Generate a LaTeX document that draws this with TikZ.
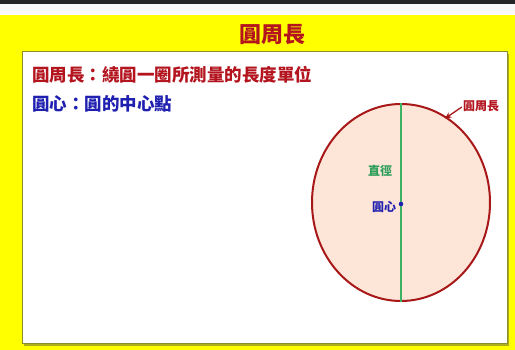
\documentclass[tikz,border=0pt]{standalone}
\usepackage{fontspec}
\newfontfamily\cjk{Noto Sans CJK TC}
\usetikzlibrary{arrows.meta,shapes.geometric}
\definecolor{bgyellow}{HTML}{FFFF00}
\definecolor{darkred}{HTML}{B3141E}
\definecolor{ringred}{HTML}{A81818}
\definecolor{txtblue}{HTML}{2020B0}
\definecolor{diagreen}{HTML}{2E9E5A}
\definecolor{linegreen}{HTML}{3CB264}
\definecolor{peach}{HTML}{FDE6D8}
\definecolor{olive}{HTML}{8C8C2A}
\definecolor{topbar}{HTML}{222426}
\tikzset{
  cjktext/.style={font=\cjk\bfseries, inner sep=0pt},
}
\begin{document}
\begin{tikzpicture}[x=1pt,y=-1pt]
\useasboundingbox (0,0) rectangle (515,350);
% background
\fill[bgyellow] (0,0) rectangle (515,350);
\fill[white!95!gray] (0,0) rectangle (515,15);
\fill[topbar] (0,0) rectangle (515,4.5);
% white panel with shadow
\fill[olive!70!bgyellow] (24,54) rectangle (509,346);
\draw[olive, line width=1pt, fill=white] (22,52) rectangle (507,343.5);
% title
\node[cjktext, text=darkred, font=\cjk\bfseries\fontsize{22}{24}\selectfont] (title) at (272,35) {圓周長};
% definitions
\node[cjktext, text=darkred, anchor=west, font=\cjk\bfseries\fontsize{17.5}{20}\selectfont] (def1) at (32,75) {圓周長：繞圓一圈所測量的長度單位};
\node[cjktext, text=txtblue, anchor=west, font=\cjk\bfseries\fontsize{17.5}{20}\selectfont] (def2) at (32,104) {圓心：圓的中心點};
% circle
\node[draw=ringred, line width=2pt, fill=peach, ellipse, minimum width=178pt, minimum height=197pt, inner sep=0pt] (circ) at (401,202.5) {};
\draw[linegreen, line width=1.6pt] (circ.north) -- (circ.south);
\fill[txtblue] (circ.center) ++(0,1.5) circle (2.3pt) coordinate (ctr);
\node[cjktext, text=diagreen, font=\cjk\bfseries\fontsize{12}{14}\selectfont] (dia) at (380,171) {直徑};
\node[cjktext, text=txtblue, font=\cjk\bfseries\fontsize{12}{14}\selectfont] (cen) at (384,207) {圓心};
\node[cjktext, text=darkred, font=\cjk\bfseries\fontsize{12}{14}\selectfont] (lab) at (481,106) {圓周長};
\coordinate (tip) at (445,118.5);
\draw[ringred, line width=1.3pt, -{Stealth[length=6.5pt,width=6pt]}] ([xshift=-1pt,yshift=-1pt]lab.west) -- (tip);
\end{tikzpicture}
\end{document}
